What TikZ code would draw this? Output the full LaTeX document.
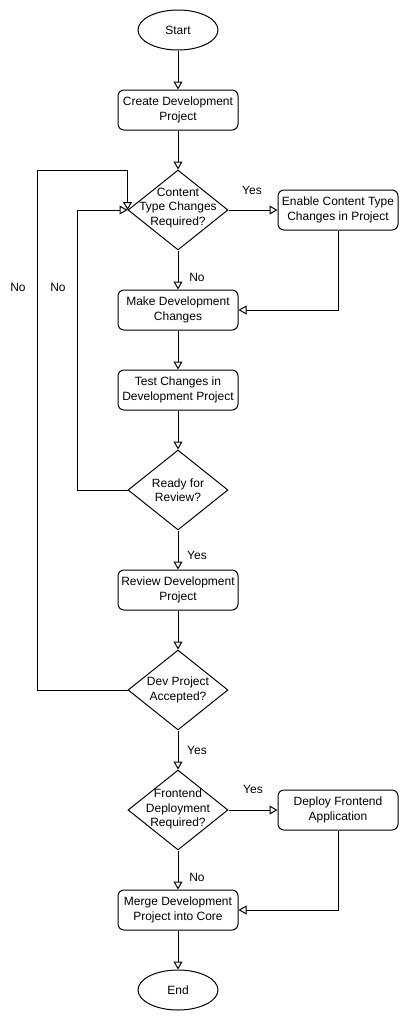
\documentclass[tikz,border=0pt]{standalone}
\usepackage{fontspec}
\setmainfont{Liberation Sans}
\usetikzlibrary{shapes.geometric,arrows.meta}
\begin{document}
\begin{tikzpicture}[x=1pt,y=-1pt,
  every node/.style={font=\fontsize{12}{14.5}\selectfont, text=black},
  stepbox/.style={draw, line width=1pt, rounded corners=6pt, minimum width=120pt, minimum height=40pt, inner sep=0pt, align=center, fill=white},
  term/.style={draw, line width=1pt, ellipse, minimum width=80pt, minimum height=40pt, inner sep=0pt, fill=white},
  dia/.style={draw, line width=1pt, diamond, minimum width=100pt, minimum height=80pt, inner sep=0pt, fill=white},
  txt/.style={align=center, inner sep=0pt},
  lbl/.style={inner sep=0pt},
  arr/.style={line width=1pt, line join=miter, -{Triangle[open, length=8pt, width=9pt, fill=white]}}
]
\useasboundingbox (0,0) rectangle (408,1021);
\node[term] (start) at (178,30) {Start};
\node[stepbox] (create) at (178,110) {Create Development\\Project};
\node[dia] (d1) at (178,210) {};
\node[txt] (d1t) at (178,208) {Content\\Type Changes\\Required?};
\node[stepbox] (enable) at (338,210) {Enable Content Type\\Changes in Project};
\node[stepbox] (make) at (178,310) {Make Development\\Changes};
\node[stepbox] (test) at (178,390) {Test Changes in\\Development Project};
\node[dia] (d2) at (178,490) {};
\node[txt] (d2t) at (178,490) {Ready for\\Review?};
\node[stepbox] (review) at (178,590) {Review Development\\Project};
\node[dia] (d3) at (178,690) {};
\node[txt] (d3t) at (178,690) {Dev Project\\Accepted?};
\node[dia] (d4) at (178,810) {};
\node[txt] (d4t) at (178,809) {Frontend\\Deployment\\Required?};
\node[stepbox] (deploy) at (338,810) {Deploy Frontend\\Application};
\node[stepbox] (merge) at (178,910) {Merge Development\\Project into Core};
\node[term] (end) at (178,990) {End};

\draw[arr] (start) -- (create);
\draw[arr] (create) -- (d1.north);
\draw[arr] (d1.east) -- (enable.west);
\draw[arr] (d1.south) -- (make.north);
\draw[arr] (enable.south) |- (make.east);
\draw[arr] (make) -- (test);
\draw[arr] (test) -- (d2.north);
\draw[arr] (d2.west) -- ++(-50,0) |- (d1.west);
\draw[arr] (d2.south) -- (review.north);
\draw[arr] (review) -- (d3.north);
\draw[arr] (d3.west) -- ++(-90,0) |- ([yshift=40pt]d1.west) -- (d1.west);
\draw[arr] (d3.south) -- (d4.north);
\draw[arr] (d4.east) -- (deploy.west);
\draw[arr] (d4.south) -- (merge.north);
\draw[arr] (deploy.south) |- (merge.east);
\draw[arr] (merge) -- (end);

\node[lbl] (l1) at (252,190) {Yes};
\node[lbl] (l2) at (197,277) {No};
\node[lbl] (l3) at (18,287) {No};
\node[lbl] (l4) at (58,287) {No};
\node[lbl] (l5) at (197,555) {Yes};
\node[lbl] (l6) at (197,750) {Yes};
\node[lbl] (l7) at (253,789) {Yes};
\node[lbl] (l8) at (197,877) {No};
\end{tikzpicture}
\end{document}
